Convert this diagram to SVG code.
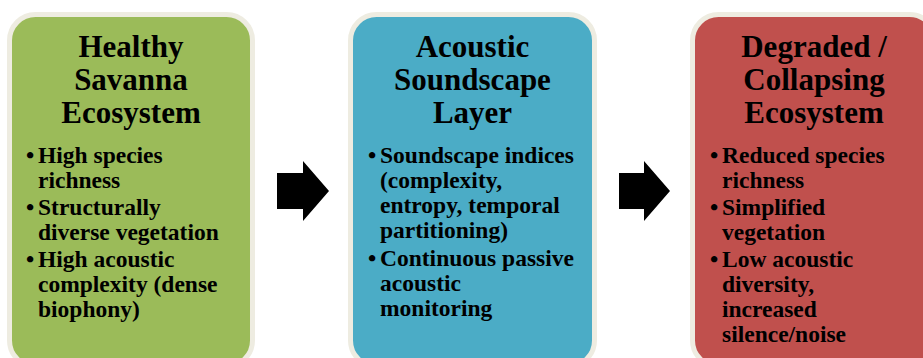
<svg xmlns="http://www.w3.org/2000/svg" width="923" height="358" viewBox="0 0 923 358">
<style>
.box{stroke:#EEECE1;stroke-width:5}
.title{font-family:"Liberation Serif","Times New Roman",serif;font-weight:bold;font-size:31px;fill:#000;text-anchor:middle}
.body{font-family:"Liberation Serif","Times New Roman",serif;font-weight:bold;font-size:23.5px;fill:#000}
.bul{font-family:"Liberation Serif","Times New Roman",serif;font-weight:bold;font-size:23.5px;fill:#000;text-anchor:middle}
.arrow{fill:#000}
</style>
<rect width="923" height="358" fill="#fff"/>
<g id="node-healthy">
<rect class="box" x="9.5" y="14.5" width="243" height="352" rx="26" fill="#9BBB59"/>
<text class="title" x="131" y="57">Healthy</text>
<text class="title" x="131" y="90">Savanna</text>
<text class="title" x="131" y="123">Ecosystem</text>
<text class="bul" x="30" y="163">•</text>
<text class="body" x="38" y="163">High species</text>
<text class="body" x="38" y="188">richness</text>
<text class="bul" x="30" y="215">•</text>
<text class="body" x="38" y="215">Structurally</text>
<text class="body" x="38" y="240">diverse vegetation</text>
<text class="bul" x="30" y="267">•</text>
<text class="body" x="38" y="267">High acoustic</text>
<text class="body" x="38" y="292">complexity (dense</text>
<text class="body" x="38" y="317">biophony)</text>
</g>
<g id="node-acoustic">
<rect class="box" x="350.5" y="14.5" width="244" height="352" rx="26" fill="#4BACC6"/>
<text class="title" x="472.5" y="57">Acoustic</text>
<text class="title" x="472.5" y="90">Soundscape</text>
<text class="title" x="472.5" y="123">Layer</text>
<text class="bul" x="372" y="163">•</text>
<text class="body" x="380" y="163">Soundscape indices</text>
<text class="body" x="380" y="188">(complexity,</text>
<text class="body" x="380" y="213">entropy, temporal</text>
<text class="body" x="380" y="238">partitioning)</text>
<text class="bul" x="372" y="266">•</text>
<text class="body" x="380" y="266">Continuous passive</text>
<text class="body" x="380" y="291">acoustic</text>
<text class="body" x="380" y="316">monitoring</text>
</g>
<g id="node-degraded">
<rect class="box" x="692.5" y="14.5" width="243" height="352" rx="26" fill="#C0504D"/>
<text class="title" x="814" y="57">Degraded /</text>
<text class="title" x="814" y="90">Collapsing</text>
<text class="title" x="814" y="123">Ecosystem</text>
<text class="bul" x="714" y="163">•</text>
<text class="body" x="722" y="163">Reduced species</text>
<text class="body" x="722" y="188">richness</text>
<text class="bul" x="714" y="215">•</text>
<text class="body" x="722" y="215">Simplified</text>
<text class="body" x="722" y="240">vegetation</text>
<text class="bul" x="714" y="267">•</text>
<text class="body" x="722" y="267">Low acoustic</text>
<text class="body" x="722" y="292">diversity,</text>
<text class="body" x="722" y="317">increased</text>
<text class="body" x="722" y="342">silence/noise</text>
</g>
<g id="connectors">
<polygon class="arrow" points="277,173 303,173 303,161 329,191 303,221 303,209 277,209"/>
<polygon class="arrow" points="619,173 644,173 644,161 670,191 644,221 644,209 619,209"/>
</g>
</svg>
